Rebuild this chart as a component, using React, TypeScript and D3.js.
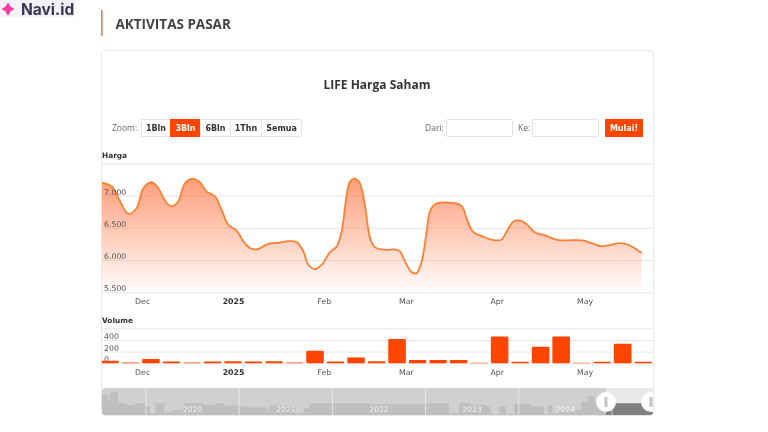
import { useEffect, useRef } from "react";
import * as d3 from "d3";

const W = 768;
const H = 432;
const ORANGE = "#ff4500";
const FONT = "'Open Sans', sans-serif";
const CHART_FONT = "'DejaVu Sans', sans-serif";

// days counted from 1 Jan 2025
const priceDays = [
  -44.8, -41.4, -39.1, -35.7, -32.9, -30.6, -27.7, -25.5, -22.6, -20.7, -18.7, -16.4, -13.8, -11.3, -9, -6.1,
  -3.9, -1.6, 1.3, 3.5, 5.8, 8.1, 12, 15.5, 18.9, 21.7, 24, 25.7, 28, 30.3, 33.1, 35.4,
  37.1, 38.8, 39.9, 41.6, 43.3, 45, 46.8, 48.5, 51.9, 55.3, 57, 58.7, 61, 62.7, 64.4, 66.1,
  67.2, 69, 72.9, 78, 79.7, 82, 84.9, 88.8, 91.7, 93.4, 95.7, 98, 100.2, 103.1, 106.5, 111,
  116.7, 120, 125.3, 127.5, 132, 134.9, 139.5,
];
const priceValues = [
  7200, 7140, 6960, 6716, 6804, 7113, 7206, 7113, 6880, 6835, 6907, 7190, 7263, 7206, 7062, 6985,
  6778, 6546, 6454, 6290, 6185, 6165, 6250, 6268, 6294, 6278, 6134, 5928, 5861, 5928, 6124, 6211,
  6443, 7010, 7216, 7263, 7190, 6856, 6340, 6196, 6160, 6165, 6134, 5979, 5809, 5799, 5979, 6443,
  6753, 6866, 6892, 6840, 6649, 6433, 6371, 6309, 6320, 6443, 6598, 6613, 6557, 6428, 6381, 6309,
  6309, 6299, 6216, 6222, 6263, 6237, 6108,
];

const volumeDates = [
  "2024-11-20", "2024-11-27", "2024-12-04", "2024-12-11", "2024-12-18", "2024-12-25", "2025-01-01", "2025-01-08", "2025-01-15",
  "2025-01-22", "2025-01-29", "2025-02-05", "2025-02-12", "2025-02-19", "2025-02-26", "2025-03-05", "2025-03-12", "2025-03-19",
  "2025-03-26", "2025-04-02", "2025-04-09", "2025-04-16", "2025-04-23", "2025-04-30", "2025-05-07", "2025-05-14", "2025-05-21",
];
const volumeValues = [45, 15, 75, 30, 15, 30, 35, 30, 35, 15, 215, 30, 100, 35, 415, 55, 55, 55, 10, 460, 25, 285, 460, 10, 25, 335, 25];

const priceTicks = [5500, 6000, 6500, 7000, 7500];
const volumeTicks = [0, 200, 400, 600];
const monthTicks = ["2024-12-01", "2025-01-01", "2025-02-01", "2025-03-01", "2025-04-01", "2025-05-01"];
const monthLabels = ["Dec", "2025", "Feb", "Mar", "Apr", "May"];

const navYears = [
  2019.45, 2019.59, 2019.61, 2019.65, 2019.7, 2019.79, 2019.88, 2019.99, 2020.04, 2020.1, 2020.2, 2020.22, 2020.29, 2020.4,
  2020.62, 2020.74, 2020.83, 2021.01, 2021.1, 2021.3, 2021.33, 2021.55, 2021.6, 2021.69, 2021.75, 2022.39, 2023.0, 2023.25,
  2023.36, 2023.48, 2023.66, 2023.7, 2023.79, 2023.86, 2023.95, 2024.13, 2024.27, 2024.31, 2024.36, 2024.42, 2024.67, 2024.74,
  2024.81, 2024.95, 2025.02, 2025.34, 2025.46,
];
const navValues = [
  60, 45, 65, 70, 35, 30, 35, 25, 5, 35, 5, 10, 15, 35,
  30, 35, 28, 25, 22, 12, 28, 25, 5, 20, 35, 32, 35, 5,
  35, 30, 25, 3, 25, 3, 33, 25, 3, 30, 5, 15, 40, 55,
  40, 30, 35, 28, 28,
];
const navLabels = [2020, 2021, 2022, 2023, 2024];

const zoomButtons = ["1Bln", "3Bln", "6Bln", "1Thn", "Semua"];
const zoomEdges = [141, 170, 200, 230, 261, 301];

const parse = d3.utcParse("%Y-%m-%d");
const DAY = 86400000;
const JAN1 = Date.UTC(2025, 0, 1);

export default function App() {
  const svgRef = useRef<SVGSVGElement>(null);

  useEffect(() => {
    if (!svgRef.current) return;
    const svg = d3.select(svgRef.current);
    svg.selectAll("*").remove();

    const defs = svg.append("defs");
    const grad = defs
      .append("linearGradient")
      .attr("id", "priceFill")
      .attr("gradientUnits", "userSpaceOnUse")
      .attr("x1", 0)
      .attr("x2", 0)
      .attr("y1", 165)
      .attr("y2", 292);
    grad.append("stop").attr("offset", 0).attr("stop-color", "#ff7f50").attr("stop-opacity", 0.85);
    grad.append("stop").attr("offset", 1).attr("stop-color", "#ff7f50").attr("stop-opacity", 0.02);

    // page header
    svg.append("rect").attr("x", 0).attr("y", 0).attr("width", 75).attr("height", 17).attr("fill", "#f4f1f8");
    svg
      .append("path")
      .attr("d", "M8 2.5 L10.5 6.5 L14.5 9 L10.5 11.5 L8 16 L5.5 11.5 L1.5 9 L5.5 6.5 Z")
      .attr("fill", "#f53ba5");
    svg
      .append("text")
      .attr("x", 21)
      .attr("y", 15)
      .attr("font-family", "Inter, sans-serif")
      .attr("font-weight", 700)
      .attr("font-size", 15.5)
      .attr("fill", "#3a3550")
      .text("Navi.id");
    svg.append("rect").attr("x", 101).attr("y", 10).attr("width", 1.6).attr("height", 26).attr("fill", "#f47a50");
    svg
      .append("text")
      .attr("x", 115.5)
      .attr("y", 28.5)
      .attr("font-family", FONT)
      .attr("font-weight", 700)
      .attr("font-size", 13.5)
      .attr("fill", "#444")
      .text("AKTIVITAS PASAR");

    // card
    svg
      .append("rect")
      .attr("x", 101.5)
      .attr("y", 50.5)
      .attr("width", 552)
      .attr("height", 365)
      .attr("rx", 4)
      .attr("fill", "#fff")
      .attr("stroke", "#e8e8e8");
    svg
      .append("text")
      .attr("x", 377)
      .attr("y", 89)
      .attr("text-anchor", "middle")
      .attr("font-family", FONT)
      .attr("font-weight", 700)
      .attr("font-size", 12)
      .attr("fill", "#333")
      .text("LIFE Harga Saham");

    // range selector row
    const label = (x: number, t: string) =>
      svg
        .append("text")
        .attr("x", x)
        .attr("y", 130.5)
        .attr("font-family", FONT)
        .attr("font-size", 8.5)
        .attr("fill", "#666")
        .text(t);
    label(112, "Zoom:");
    label(425, "Dari:");
    label(518, "Ke:");
    zoomButtons.forEach((b, i) => {
      const active = b === "3Bln";
      svg
        .append("rect")
        .attr("x", zoomEdges[i] + 0.5)
        .attr("y", 119.5)
        .attr("width", zoomEdges[i + 1] - zoomEdges[i])
        .attr("height", 17)
        .attr("fill", active ? ORANGE : "#fff")
        .attr("stroke", active ? ORANGE : "#e6e6e6");
      svg
        .append("text")
        .attr("x", (zoomEdges[i] + zoomEdges[i + 1]) / 2 + 0.5)
        .attr("y", 131)
        .attr("text-anchor", "middle")
        .attr("font-family", CHART_FONT)
        .attr("font-weight", 700)
        .attr("font-size", 8)
        .attr("fill", active ? "#fff" : "#333")
        .text(b);
    });
    [446, 532].forEach((x) => {
      svg
        .append("rect")
        .attr("x", x + 0.5)
        .attr("y", 119.5)
        .attr("width", 66)
        .attr("height", 17)
        .attr("rx", 1)
        .attr("fill", "#fff")
        .attr("stroke", "#dfe3ea");
    });
    svg.append("rect").attr("x", 605).attr("y", 119).attr("width", 38).attr("height", 18).attr("fill", ORANGE);
    svg
      .append("text")
      .attr("x", 624)
      .attr("y", 131)
      .attr("text-anchor", "middle")
      .attr("font-family", CHART_FONT)
      .attr("font-weight", 700)
      .attr("font-size", 8)
      .attr("fill", "#fff")
      .text("Mulai!");

    // scales
    const x = d3
      .scaleUtc()
      .domain([new Date(JAN1 - 44.7 * DAY), new Date(JAN1 + 143.35 * DAY)])
      .range([102, 653]);
    const yPrice = d3.scaleLinear().domain([5500, 7500]).range([292.3, 163.3]);
    const yVol = d3.scaleLinear().domain([0, 600]).range([363.3, 328.3]);

    const styleAxis = (g: d3.Selection<SVGGElement, unknown, null, undefined>) => {
      g.select(".domain").remove();
      g.selectAll("line").attr("stroke", "#e6e6e6");
      g.selectAll("text")
        .attr("font-family", CHART_FONT)
        .attr("font-size", 7.8)
        .attr("fill", "#555");
    };

    // gridlines go under the marks, tick labels over them
    const grid = (scale: d3.ScaleLinear<number, number>, ticks: number[]) => {
      svg
        .append("g")
        .attr("transform", "translate(102,0)")
        .call(d3.axisLeft(scale).tickValues(ticks).tickSize(-551).tickFormat(() => ""))
        .call(styleAxis);
    };
    const valueLabels = (scale: d3.ScaleLinear<number, number>, ticks: number[], fmt: (d: number) => string) => {
      svg
        .append("g")
        .attr("transform", "translate(102,0)")
        .call(d3.axisLeft(scale).tickValues(ticks).tickSize(0).tickFormat((d) => fmt(d as number)))
        .call(styleAxis)
        .call((g) => g.selectAll("text").attr("text-anchor", "start").attr("x", 2).attr("dy", -1.5));
    };
    grid(yPrice, priceTicks);
    grid(yVol, volumeTicks);

    const priceRows = priceDays.map((d, i) => ({ date: new Date(JAN1 + d * DAY), value: priceValues[i] }));
    const curve = d3.curveCatmullRom.alpha(0.5);
    const area = d3
      .area<{ date: Date; value: number }>()
      .x((d) => x(d.date))
      .y0(yPrice(5500))
      .y1((d) => yPrice(d.value))
      .curve(curve);
    const line = d3
      .line<{ date: Date; value: number }>()
      .x((d) => x(d.date))
      .y((d) => yPrice(d.value))
      .curve(curve);

    defs
      .append("clipPath")
      .attr("id", "plotClip")
      .append("rect")
      .attr("x", 102)
      .attr("y", 150)
      .attr("width", 551)
      .attr("height", 220);
    const plot = svg.append("g").attr("clip-path", "url(#plotClip)");
    plot.append("path").datum(priceRows).attr("d", area).attr("fill", "url(#priceFill)");
    plot
      .append("path")
      .datum(priceRows)
      .attr("d", line)
      .attr("fill", "none")
      .attr("stroke", "#ff7f32")
      .attr("stroke-width", 1.8);

    // volume bars
    const barWidth = (6 * DAY * 551) / (188.05 * DAY);
    plot
      .selectAll("rect.vol")
      .data(volumeDates.map((d, i) => ({ date: parse(d) as Date, value: volumeValues[i] })))
      .join("rect")
      .attr("class", "vol")
      .attr("x", (d) => x(d.date) - barWidth / 2)
      .attr("width", barWidth)
      .attr("y", (d) => yVol(d.value))
      .attr("height", (d) => yVol(0) - yVol(d.value))
      .attr("rx", 1)
      .attr("fill", ORANGE);

    valueLabels(yPrice, priceTicks.filter((d) => d < 7500), (d) => d3.format(",")(d).replace(",", "."));
    valueLabels(yVol, volumeTicks.filter((d) => d < 600), String);

    const monthAxis = (y: number) => {
      svg
        .append("g")
        .attr("transform", `translate(0,${y})`)
        .call(
          d3
            .axisBottom(x)
            .tickValues(monthTicks.map((d) => parse(d) as Date))
            .tickSize(0)
            .tickPadding(0)
            .tickFormat((_, i) => monthLabels[i])
        )
        .call(styleAxis)
        .call((g) =>
          g
            .selectAll<SVGTextElement, Date>("text")
            .attr("font-weight", (_, i) => (monthLabels[i] === "2025" ? 700 : 400))
            .attr("fill", (_, i) => (monthLabels[i] === "2025" ? "#333" : "#555"))
        );
    };
    monthAxis(298);
    monthAxis(369.5);

    const panelTitle = (y: number, t: string) =>
      svg
        .append("text")
        .attr("x", 102)
        .attr("y", y)
        .attr("font-family", CHART_FONT)
        .attr("font-weight", 700)
        .attr("font-size", 7.4)
        .attr("fill", "#333")
        .text(t);
    panelTitle(157.5, "Harga");
    panelTitle(322.5, "Volume");

    // navigator
    const navTop = 388;
    const navBottom = 415;
    const xNav = d3.scaleLinear().domain([2020, 2025]).range([146, 612]);
    const yNav = d3.scaleLinear().domain([0, 80]).range([navBottom, navTop]);
    const selStart = 606;
    const navRows = navYears.map((y, i) => ({ year: y, value: navValues[i] }));
    const navArea = d3
      .area<{ year: number; value: number }>()
      .x((d) => xNav(d.year))
      .y0(navBottom)
      .y1((d) => yNav(d.value))
      .curve(d3.curveStepAfter);

    defs
      .append("clipPath")
      .attr("id", "navClip")
      .append("rect")
      .attr("x", 102)
      .attr("y", navTop)
      .attr("width", 551)
      .attr("height", navBottom - navTop)
      .attr("rx", 3);
    defs
      .append("clipPath")
      .attr("id", "navSel")
      .append("rect")
      .attr("x", selStart)
      .attr("y", navTop)
      .attr("width", 47)
      .attr("height", navBottom - navTop);
    const nav = svg.append("g").attr("clip-path", "url(#navClip)");
    nav
      .append("rect")
      .attr("x", 102)
      .attr("y", navTop)
      .attr("width", selStart - 102)
      .attr("height", navBottom - navTop)
      .attr("fill", "#d0d0d0");
    nav
      .append("rect")
      .attr("x", selStart)
      .attr("y", navTop)
      .attr("width", 47)
      .attr("height", navBottom - navTop)
      .attr("fill", "#e8e8e8");
    nav.append("path").datum(navRows).attr("d", navArea).attr("fill", "#bfbfbf");
    nav
      .append("path")
      .datum(navRows)
      .attr("d", navArea)
      .attr("fill", "#808080")
      .attr("clip-path", "url(#navSel)");
    d3.range(2020, 2026).forEach((yr) => {
      nav
        .append("line")
        .attr("x1", xNav(yr))
        .attr("x2", xNav(yr))
        .attr("y1", navTop)
        .attr("y2", navBottom)
        .attr("stroke", "#eee")
        .attr("stroke-width", 0.8);
    });
    navLabels.forEach((yr) => {
      nav
        .append("text")
        .attr("x", xNav(yr + 0.5))
        .attr("y", 411.5)
        .attr("text-anchor", "middle")
        .attr("font-family", CHART_FONT)
        .attr("font-size", 7.6)
        .attr("fill", "#f2f2f2")
        .text(yr);
    });
    [606, 651].forEach((cx) => {
      nav.append("circle").attr("cx", cx).attr("cy", 402).attr("r", 10).attr("fill", "#fff");
      nav
        .append("rect")
        .attr("x", cx - 1.5)
        .attr("y", 397)
        .attr("width", 3)
        .attr("height", 10)
        .attr("fill", "#c4c4c4");
    });
  }, []);

  return (
    <svg
      ref={svgRef}
      width={W}
      height={H}
      viewBox={`0 0 ${W} ${H}`}
      style={{ position: "fixed", left: 0, top: 0, background: "#fff", filter: "blur(0.35px)" }}
    />
  );
}
